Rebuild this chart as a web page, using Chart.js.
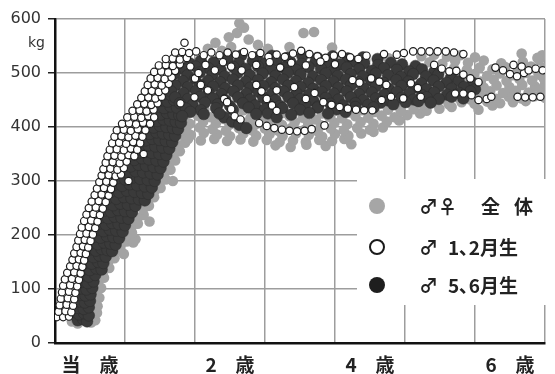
<!DOCTYPE html>
<html>
<head>
<meta charset="utf-8">
<script src="https://cdn.jsdelivr.net/npm/chart.js@4/dist/chart.umd.min.js"></script>
<style>
  body { margin: 0; background: #fff; }
  canvas { display: block; }
</style>
</head>
<body>
<canvas id="growthChart" width="555" height="374"></canvas>
<script>
// Axis labels (x in months of age, one grid line per year)
const ageLabels = ['当　歳', '2　歳', '4　歳', '6　歳'];
const ageLabelMonths = [6, 30, 54, 78];
const legendNames = ['♂♀', '♂', '♂'];
const legendTexts = [['全', '体'], ['1､2月生'], ['5､6月生']];

// ♂♀ all animals: [month, kg]
const allGrowth = [
    [2.9,40],[3.9,36],[6.2,38],[6.9,42],[2.6,50],[3.5,47],[6.4,52],[7.2,56],
    [3.0,62],[6.6,64],[7.3,68],[6.8,80],[7.6,84],[7.1,97],[7.9,102],[7.5,116],[8.4,121],
    [8.3,134],[9.3,139],[9.2,152],[10.2,157],[10.0,168],[11.0,172],[11.8,165],
    [11.3,183],[12.3,188],[13.4,186],[13.8,192],[12.2,199],[13.2,204],[13.2,216],[14.2,221],[16.2,225],
    [14.2,232],[15.2,237],[15.1,248],[16.1,254],[16.0,264],[17.0,270],[17.1,282],[18.1,287],
    [18.0,298],[19.0,303],[20.2,300],[18.8,316],[19.8,321],[19.6,333],[20.6,338],
    [20.4,350],[21.4,355],[21.2,366],[22.3,371],[22.3,380],[21.4,390]
];
const allPlateau = [
    [37.8,366],[40.4,363],[43.1,367],[46.4,365],[50.8,368],
    [22.8,378],[25.0,375],[27.3,378],[29.5,374],[31.8,377],[34.0,373],[36.3,376],[38.5,372],[40.8,375],[43.0,372],[45.3,376],[47.5,374],[49.6,378],
    [21.0,388],[23.3,385],[25.5,389],[27.8,386],[30.0,383],[32.3,388],[34.5,384],[36.8,387],[39.0,383],[41.3,388],[43.5,385],[45.8,382],[48.0,387],[50.3,384],[52.5,388],[54.6,391],
    [20.3,398],[22.5,395],[24.8,399],[27.0,396],[29.3,393],[31.5,398],[33.8,394],[36.0,397],[38.3,393],[40.5,398],[42.8,395],[45.0,392],[47.3,397],[49.5,394],[51.8,398],[54.0,395],[56.2,399],
    [20.9,409],[23.1,406],[25.4,410],[27.6,407],[29.9,404],[32.1,409],[34.4,405],[36.6,408],[38.9,404],[41.1,409],[43.4,406],[45.6,403],[47.9,408],[50.1,405],[52.4,409],[54.6,406],[56.9,410],[59.0,412],
    [20.0,420],[22.2,417],[24.5,421],[26.7,418],[29.0,415],[31.2,420],[33.5,416],[35.7,419],[38.0,415],[40.2,420],[42.5,417],[44.7,414],[47.0,419],[49.2,416],[51.5,420],[53.7,417],[56.0,421],[58.2,418],[60.4,422],[62.6,425],
    [21.1,431],[23.3,428],[25.6,432],[27.8,429],[30.1,426],[32.3,431],[34.6,427],[36.8,430],[39.1,426],[41.3,431],[43.6,428],[45.8,425],[48.1,430],[50.3,427],[52.6,431],[54.8,428],[57.1,432],[59.3,429],[61.5,433],[63.7,430],[65.9,434],[68.0,437],
    [56.5,443],[58.7,440],[60.9,444],[63.1,441],[65.3,445],[67.5,442],[69.7,446],[71.9,443],[74.1,447],[76.3,444],[78.5,446],[80.7,448],[72.6,432],[75.0,440],
    [66.8,452],[69.0,455],[71.2,451],[73.4,455],[75.6,452],[77.8,456],[80.0,453],[82.2,457],[84.0,454],
    [70.2,465],[72.4,462],[74.6,466],[76.8,463],[79.0,467],[81.2,464],[83.4,468],
    [71.3,476],[73.5,473],[75.7,477],[77.9,474],[80.1,478],[82.3,475],[84.0,479],
    [70.8,487],[73.0,484],[75.2,488],[77.4,485],[79.6,489],[81.8,486],[83.8,490],
    [71.9,498],[74.1,495],[76.3,499],[78.5,496],[80.7,500],[82.9,497],
    [68.4,509],[70.6,506],[72.8,510],[75.0,507],[77.2,511],[79.4,508],[81.6,512],[83.8,509],
    [64.2,520],[66.4,517],[68.6,522],[70.8,519],[73.5,523],[76.5,518],[80.2,521],[83.0,524],
    [62.8,531],[65.0,534],[67.2,530],[69.5,533],[72.0,529],[83.5,533],[80.0,536],[82.7,528],
    [35.0,527],[47.0,526],[53.2,524],[57.2,527],
    [27.5,556],[29.8,566],[31.2,574],[32.4,584],[31.6,592],[30.2,548],[33.2,562],[34.8,552],
    [42.6,574],[44.4,576],[36.5,545],[40.2,548],[26.2,545],[28.6,541],[47.5,547]
];

// ♂ born May-June: [month, kg]
const mayJunGrowth = [
    [3.9,42],[4.8,44],[5.5,40],[4.1,53],[5.0,55],[5.8,51],[4.0,65],[4.9,63],[5.8,66],
    [4.2,77],[5.1,75],[6.0,78],[4.3,89],[5.2,88],[6.1,90],[4.5,101],[5.4,99],[6.4,102],
    [4.6,113],[5.6,111],[6.6,114],[4.8,125],[5.8,123],[6.9,126],
    [5.0,137],[6.0,135],[7.1,138],[8.0,136],[5.3,149],[6.3,147],[7.4,150],[8.3,148],
    [5.6,161],[6.6,159],[7.6,162],[8.7,160],[6.0,173],[7.0,171],[8.0,174],[9.0,172],[9.8,170],
    [6.3,185],[7.3,183],[8.4,186],[9.5,184],[10.4,182],[6.8,197],[7.8,195],[8.9,198],[10.0,196],[11.0,194],
    [7.2,209],[8.3,207],[9.4,210],[10.5,208],[11.6,206],[7.6,221],[8.7,219],[9.8,222],[10.9,220],[12.0,218],
    [8.0,233],[9.1,231],[10.2,234],[11.4,232],[12.6,230],[8.4,245],[9.6,243],[10.8,246],[12.0,244],[13.2,242],
    [8.8,257],[10.0,255],[11.2,258],[12.5,256],[13.8,254],
    [9.2,269],[10.5,267],[11.8,270],[13.1,268],[14.4,266],[15.4,264],
    [9.7,281],[11.0,279],[12.3,282],[13.6,280],[14.9,278],[16.0,276],
    [10.2,293],[11.5,291],[12.8,294],[14.1,292],[15.4,290],[16.6,288],
    [10.6,305],[12.0,303],[13.3,306],[14.6,304],[15.9,302],[17.1,300],
    [11.2,317],[12.5,315],[13.8,318],[15.1,316],[16.4,314],[17.6,312],
    [11.8,329],[13.0,327],[14.3,330],[15.6,328],[16.9,326],[18.1,324],
    [12.4,341],[13.6,339],[14.9,342],[16.1,340],[17.4,338],[18.6,336],
    [13.0,353],[14.2,351],[15.4,354],[16.6,352],[17.9,350],[19.1,348],
    [13.6,365],[14.8,363],[16.0,366],[17.2,364],[18.4,362],[19.6,360],
    [14.3,377],[15.5,375],[16.7,378],[17.9,376],[19.0,374],[20.1,372],
    [15.0,389],[16.2,387],[17.4,390],[18.5,388],[19.6,386],[20.6,384],
    [15.7,401],[16.9,399],[18.0,402],[19.1,400],[20.2,398],[21.1,396],
    [16.4,413],[17.5,411],[18.6,414],[19.7,412],[20.7,410],[21.6,408],
    [17.0,425],[18.1,423],[19.2,426],[20.3,424],[21.3,422],
    [17.6,437],[18.7,435],[19.8,438],[20.9,436],[18.2,449],[19.3,447],[20.4,450],
    [18.8,461],[19.9,459],[19.4,472]
];
const mayJunPlateau = [
    [29.5,530],[32.0,533],[34.6,529],[37.2,532],[39.8,528],[42.4,531],[45.0,528],[47.6,531],[50.2,527],[52.8,529],[55.3,526],
    [20.8,521],[23.1,518],[25.0,523],[27.2,520],[29.6,524],[31.5,519],[33.9,522],[36.1,518],[38.0,523],[40.4,520],[42.3,517],[44.7,522],[46.6,519],[48.9,516],[51.2,521],[53.0,518],[55.4,515],[57.6,519],[59.5,516],[61.8,513],
    [19.9,510],[22.0,507],[24.1,512],[26.3,509],[28.4,506],[30.6,511],[32.7,508],[34.8,512],[37.0,507],[39.2,510],[41.3,506],[43.5,511],[45.6,508],[47.8,505],[50.0,510],[52.1,507],[54.3,504],[56.4,509],[58.6,506],[60.7,503],[62.9,507],[65.0,502],
    [20.5,499],[22.7,496],[24.8,501],[27.0,497],[29.1,494],[31.3,500],[33.4,496],[35.6,499],[37.8,495],[39.9,500],[42.1,497],[44.2,494],[46.4,499],[48.5,495],[50.7,498],[52.8,494],[55.0,499],[57.1,496],[59.3,493],[61.4,498],[63.6,494],[65.7,497],[67.9,492],
    [19.8,488],[21.9,485],[24.0,489],[26.2,486],[28.3,483],[30.5,488],[32.7,484],[34.8,487],[37.0,483],[39.1,488],[41.3,485],[43.4,482],[45.6,487],[47.7,484],[49.9,488],[52.0,483],[54.2,486],[56.3,482],[58.5,487],[60.6,484],[62.8,481],[64.9,486],[67.1,482],[69.2,485],[71.6,482],
    [20.6,477],[22.8,474],[24.9,478],[27.1,475],[29.2,472],[31.4,477],[33.5,473],[35.7,476],[37.8,472],[40.0,477],[42.1,474],[44.3,471],[46.4,476],[48.6,473],[50.7,477],[52.9,472],[55.0,475],[57.2,471],[59.4,476],[61.5,473],[63.7,470],[65.8,475],[68.0,471],[70.1,474],[72.0,470],
    [19.9,466],[22.0,463],[24.2,467],[26.3,464],[28.5,461],[30.6,466],[32.8,462],[34.9,465],[37.1,461],[39.2,466],[41.4,463],[43.5,460],[45.7,465],[47.8,462],[50.0,466],[52.1,461],[54.3,464],[56.4,460],[58.6,465],[60.7,462],[62.9,459],[65.0,464],[67.2,460],[69.3,463],[71.2,466],
    [20.6,455],[22.8,452],[24.9,456],[27.1,453],[29.2,450],[31.4,455],[33.5,451],[35.7,454],[37.8,450],[40.0,455],[42.1,452],[44.3,449],[46.4,454],[48.6,451],[50.7,455],[52.9,450],[55.0,453],[57.2,449],[59.4,454],[61.5,451],[63.7,455],[65.8,452],[68.0,456],[70.0,453],
    [21.4,444],[23.6,441],[25.7,445],[27.9,442],[30.0,439],[32.2,444],[34.3,440],[36.5,443],[38.6,439],[40.8,444],[42.9,441],[45.1,438],[47.2,443],[49.4,440],[51.5,444],[53.7,441],[55.8,445],[58.0,442],[60.1,446],[62.3,448],[64.4,445],
    [22.5,434],[25.0,431],[27.6,435],[30.5,432],[33.2,436],[36.0,433],[39.0,435],[42.0,432],[45.0,436],[48.3,433],[51.5,437],[54.6,436],
    [34.5,424],[37.4,427],[40.5,423],[43.6,426],[46.8,425],[49.8,428],
    [29.0,418],[30.4,410],[31.6,404],[32.8,398],[28.2,425],[25.5,424],[23.2,428],[21.8,420],[36.5,425],[38.0,418]
];

// ♂ born Jan-Feb: [month, kg]
const janFebGrowth = [
    [0.3,48],[1.4,48],[2.4,49],[0.6,58],[1.8,59],[2.8,57],[0.8,70],[2.0,71],[3.1,69],
    [1.0,82],[2.2,83],[3.3,81],[1.2,94],[2.4,95],[3.5,93],[1.4,106],[2.6,107],[3.8,105],
    [1.7,118],[2.9,119],[4.1,117],[2.1,130],[3.3,131],[4.4,129],[2.6,142],[3.7,143],[4.7,141],
    [3.0,154],[4.1,155],[5.0,153],[3.3,166],[4.4,167],[5.3,165],[3.7,178],[4.8,179],[5.7,177],
    [4.0,190],[5.1,191],[6.1,189],[4.3,202],[5.4,203],[6.5,201],[4.6,214],[5.8,215],[6.9,213],
    [5.0,226],[6.2,227],[7.3,225],[5.4,238],[6.6,239],[7.7,237],[5.8,250],[7.0,251],[8.2,249],
    [6.3,262],[7.5,263],[8.7,261],[6.8,274],[8.0,275],[9.2,273],[7.2,286],[8.4,287],[9.6,285],
    [7.6,298],[8.8,299],[10.0,297],[8.0,310],[9.2,311],[10.4,309],[11.3,312],
    [8.3,322],[9.5,323],[10.7,321],[11.8,324],[8.7,334],[9.9,335],[11.1,333],[12.3,336],
    [9.0,346],[10.2,347],[11.4,345],[12.6,348],[13.6,346],[9.4,358],[10.6,359],[11.8,357],[13.0,360],[14.1,358],
    [9.8,370],[11.0,371],[12.2,369],[13.4,372],[14.6,370],[10.2,382],[11.4,383],[12.6,381],[13.8,384],[15.0,382],
    [10.6,394],[11.8,395],[13.0,393],[14.2,396],[15.5,394],[11.5,406],[12.7,407],[13.9,405],[15.1,408],[16.3,406],
    [12.4,418],[13.6,419],[14.8,417],[16.0,420],[17.0,418],[13.3,430],[14.5,431],[15.7,429],[16.9,432],
    [14.1,442],[15.3,443],[16.5,441],[17.6,444],[14.8,454],[16.0,455],[17.2,453],[18.3,456],
    [15.4,466],[16.6,467],[17.8,465],[18.9,468],[15.9,478],[17.1,479],[18.3,477],[19.5,480],
    [16.4,490],[17.6,491],[18.8,489],[20.0,492],[17.0,502],[18.2,503],[19.4,501],[20.6,504],
    [17.8,514],[19.0,515],[20.2,513],[21.4,516],[19.0,526],[20.2,527],[21.4,525],[22.6,528],
    [20.6,538],[21.8,539],[23.0,537],[24.2,540],[21.5,444],[23.9,455],[12.6,300],[15.2,350]
];
const janFebPlateau = [
    [22.2,556],[25.5,533],[26.8,538],[28.2,533],[29.6,538],[31.0,534],[32.4,539],[33.8,533],[35.2,537],
    [36.6,530],[38.0,534],[39.4,530],[40.8,536],[42.2,541],[43.6,535],[45.0,531],[46.4,528],[47.8,532],
    [49.2,535],[50.6,529],[52.0,526],[53.4,532],[56.4,535],[58.6,534],[59.8,537],[61.4,540],[62.8,540],
    [64.2,540],[65.6,540],[67.0,540],[68.4,538],[70.0,535],
    [24.0,490],[25.0,478],[26.2,468],[24.6,500],[23.2,512],[25.8,515],[27.4,505],[28.8,520],[30.2,512],
    [32.0,505],[34.5,515],[36.8,520],[38.6,510],[40.5,519],[43.0,514],[45.5,521],[48.0,516],
    [29.0,452],[29.5,446],[30.2,433],[30.8,420],[31.8,414],
    [34.5,478],[35.4,466],[36.3,452],[37.2,440],[38.0,430],[38.0,468],[41.0,474],[44.5,463],[43.0,452],
    [46.0,446],[47.4,441],[48.8,437],[50.2,434],[51.6,432],[53.0,431],[54.4,431],
    [51.0,487],[52.2,482],[54.2,490],[55.6,484],[56.8,478],
    [56.0,450],[57.6,456],[59.7,453],[61.0,481],[62.2,472],[62.7,456],
    [65.0,515],[66.3,508],[67.6,503],[68.8,504],[70.0,497],[71.2,490],[72.6,483],
    [68.6,462],[70.0,462],[71.4,459],[72.6,450],[74.0,452],[74.8,456],
    [75.5,510],[76.8,505],[78.0,498],[79.2,494],[80.4,500],[78.6,515],[80.0,512],[81.2,505],[82.4,508],[83.6,505],
    [79.3,456],[80.6,455],[81.9,455],[83.2,456],
    [35.0,407],[36.3,402],[37.6,398],[38.9,395],[40.2,393],[41.5,392],[42.8,393],[44.0,396],[46.2,403]
];

const toPoints = (list) => list.map(([x, y]) => ({ x: x, y: y }));

// Custom legend in a white box, plus the "kg" unit
const legendBox = {
    id: 'legendBox',
    beforeDatasetsDraw(chart) {
        const c = chart.ctx;
        c.save();
        c.fillStyle = '#ffffff';
        c.fillRect(357, 179, 198, 126);
        c.restore();
    },
    afterDraw(chart) {
        const c = chart.ctx;
        const rowsY = [206, 247, 285];
        c.save();
        // markers
        c.beginPath();
        c.arc(377, rowsY[0], 8, 0, Math.PI * 2);
        c.fillStyle = '#a6a6a6';
        c.fill();
        c.beginPath();
        c.arc(377, rowsY[1], 7, 0, Math.PI * 2);
        c.fillStyle = '#ffffff';
        c.fill();
        c.lineWidth = 2;
        c.strokeStyle = '#1a1a1a';
        c.stroke();
        c.beginPath();
        c.arc(377, rowsY[2], 8, 0, Math.PI * 2);
        c.fillStyle = '#1e1e1e';
        c.fill();

        // texts
        c.fillStyle = '#222';
        c.textBaseline = 'middle';
        c.textAlign = 'left';
        c.font = 'bold 19px "Noto Sans CJK JP"';
        legendNames.forEach((name, i) => {
            c.fillText(name, 419, rowsY[i] + 1);
        });
        c.fillText(legendTexts[0][0], 481, rowsY[0] + 1);
        c.fillText(legendTexts[0][1], 514, rowsY[0] + 1);
        c.fillText(legendTexts[1][0], 448, rowsY[1] + 1);
        c.fillText(legendTexts[2][0], 448, rowsY[2] + 1);

        // unit
        c.font = '14px "DejaVu Sans"';
        c.fillStyle = '#333';
        c.textAlign = 'right';
        c.textBaseline = 'alphabetic';
        c.fillText('kg', 45, 47);
        c.restore();
    }
};

new Chart(document.getElementById('growthChart'), {
    type: 'scatter',
    data: {
        datasets: [
            {
                label: '♂ 1､2月生',
                data: toPoints(janFebGrowth.concat(janFebPlateau)),
                backgroundColor: '#ffffff',
                borderColor: '#1e1e1e',
                borderWidth: 1.2,
                pointRadius: 3.7,
                order: 0
            },
            {
                label: '♂ 5､6月生',
                data: toPoints(mayJunGrowth.concat(mayJunPlateau)),
                backgroundColor: '#3a3a3a',
                borderColor: '#2c2c2c',
                borderWidth: 0.5,
                pointRadius: 5.8,
                order: 1
            },
            {
                label: '♂♀ 全体',
                data: toPoints(allGrowth.concat(allPlateau)),
                backgroundColor: '#a3a3a3',
                borderWidth: 0,
                pointRadius: 5.3,
                order: 2
            }
        ]
    },
    options: {
        responsive: false,
        devicePixelRatio: 1,
        animation: false,
        layout: { padding: { top: 19, right: 0, bottom: 0, left: 0 } },
        plugins: {
            legend: { display: false },
            tooltip: { enabled: false }
        },
        scales: {
            x: {
                type: 'linear',
                min: 0,
                max: 84,
                afterFit: (scale) => { scale.height = 31; },
                ticks: {
                    stepSize: 6,
                    autoSkip: false,
                    maxRotation: 0,
                    padding: 10,
                    color: '#222',
                    font: { family: 'Noto Sans CJK JP', size: 19, weight: 'bold' },
                    callback: (value) => {
                        const i = ageLabelMonths.indexOf(value);
                        return i >= 0 ? ageLabels[i] : '';
                    }
                },
                grid: {
                    drawTicks: false,
                    lineWidth: 1.5,
                    color: (ctx) => (ctx.tick && ctx.tick.value % 12 === 0) ? '#9d9d9d' : 'rgba(0,0,0,0)'
                },
                border: { color: '#111', width: 2.5 }
            },
            y: {
                min: 0,
                max: 600,
                afterFit: (scale) => { scale.width = 55; },
                ticks: {
                    stepSize: 100,
                    padding: 7,
                    color: '#333',
                    font: { family: 'DejaVu Sans', size: 16 }
                },
                grid: {
                    color: '#9d9d9d',
                    lineWidth: 1.5,
                    tickLength: 7,
                    tickColor: '#222',
                    tickWidth: 1.5
                },
                border: { color: '#111', width: 2.5 }
            }
        }
    },
    plugins: [legendBox]
});
</script>
</body>
</html>
